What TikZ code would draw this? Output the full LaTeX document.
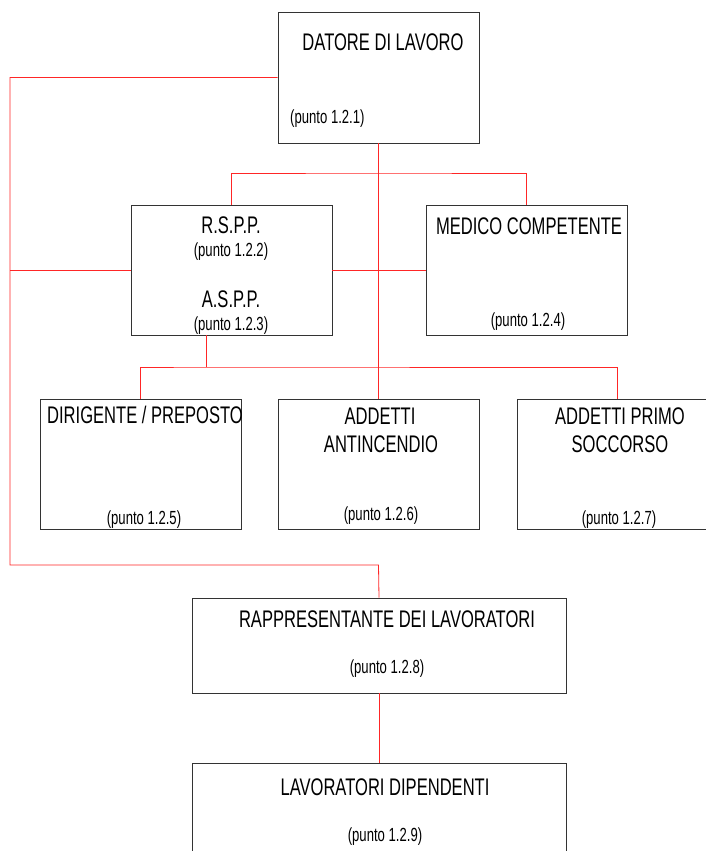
\documentclass[tikz,border=0pt]{standalone}
\usepackage{fontspec}
\setmainfont{Liberation Sans}[FakeStretch=0.69]
\begin{document}
\begin{tikzpicture}[x=1pt,y=-1pt,
  box/.style={draw=black!80,line width=0.8pt,rectangle,inner sep=0pt,minimum width=201pt,minimum height=130pt},
  wbox/.style={draw=black!80,line width=0.8pt,rectangle,inner sep=0pt,minimum width=374pt,minimum height=95pt},
  ttl/.style={anchor=base,inner sep=0pt,font=\fontsize{24}{28}\selectfont},
  pt/.style={anchor=base,inner sep=0pt,font=\fontsize{19}{22}\selectfont},
  link/.style={draw=red!85!white,line width=0.8pt}]
\useasboundingbox (0,0) rectangle (706,851);
\fill[white] (0,0) rectangle (706,851);
\clip (0,0) rectangle (706,851);
% boxes
\node[box,minimum height=131pt] (dat) at (378.5,77.5) {};
\node[box] (rspp) at (231.5,270) {};
\node[box] (med) at (526.5,270) {};
\node[box] (dir) at (140.5,464) {};
\node[box] (anti) at (378.5,464) {};
\node[box] (primo) at (617.5,464) {};
\node[wbox] (rapp) at (379,645.5) {};
\node[wbox] (lav) at (379,810.5) {};
% coordinates
\coordinate (c1) at (10,77.5);
\coordinate (c2) at (10,565);
\coordinate (c3) at (378.5,565);
\coordinate (c4) at (10,270);
\coordinate (h1) at (378.5,173);
\coordinate (h2a) at (206,335);
\coordinate (h2) at (206,367);
% links
\draw[link] (dat.west) -- (c1) -- (c2) -- (c3) -- (rapp.north);
\draw[link] (dat.south) -- (anti.north);
\draw[link] (rspp.north) |- (h1) -| (med.north);
\draw[link] (c4) -- (rspp.west);
\draw[link] (rspp.east) -- (med.west);
\draw[link] (h2a) -- (h2);
\draw[link] (dir.north) |- (h2) -| (primo.north);
\draw[link] (rapp.south) -- (lav.north);
% texts
\node[ttl] (t1) at (383,51) {DATORE DI LAVORO};
\node[pt,anchor=base west] (p1) at (290,123) {(punto 1.2.1)};
\node[ttl] (t2) at (231,233) {R.S.P.P.};
\node[pt] (p2) at (231,256) {(punto 1.2.2)};
\node[ttl] (t3) at (231,307) {A.S.P.P.};
\node[pt] (p3) at (231,330) {(punto 1.2.3)};
\node[ttl] (t4) at (529,234) {MEDICO COMPETENTE};
\node[pt] (p4) at (528,326) {(punto 1.2.4)};
\node[ttl] (t5) at (145,423) {DIRIGENTE / PREPOSTO};
\node[pt] (p5) at (144,524) {(punto 1.2.5)};
\node[ttl] (t6a) at (380,424) {ADDETTI};
\node[ttl] (t6b) at (381,452) {ANTINCENDIO};
\node[pt] (p6) at (381,520) {(punto 1.2.6)};
\node[ttl] (t7a) at (620,424) {ADDETTI PRIMO};
\node[ttl] (t7b) at (620,452) {SOCCORSO};
\node[pt] (p7) at (619,524) {(punto 1.2.7)};
\node[ttl] (t8) at (387,627) {RAPPRESENTANTE DEI LAVORATORI};
\node[pt] (p8) at (387,673) {(punto 1.2.8)};
\node[ttl] (t9) at (385,795) {LAVORATORI DIPENDENTI};
\node[pt] (p9) at (385,841) {(punto 1.2.9)};
\end{tikzpicture}
\end{document}
